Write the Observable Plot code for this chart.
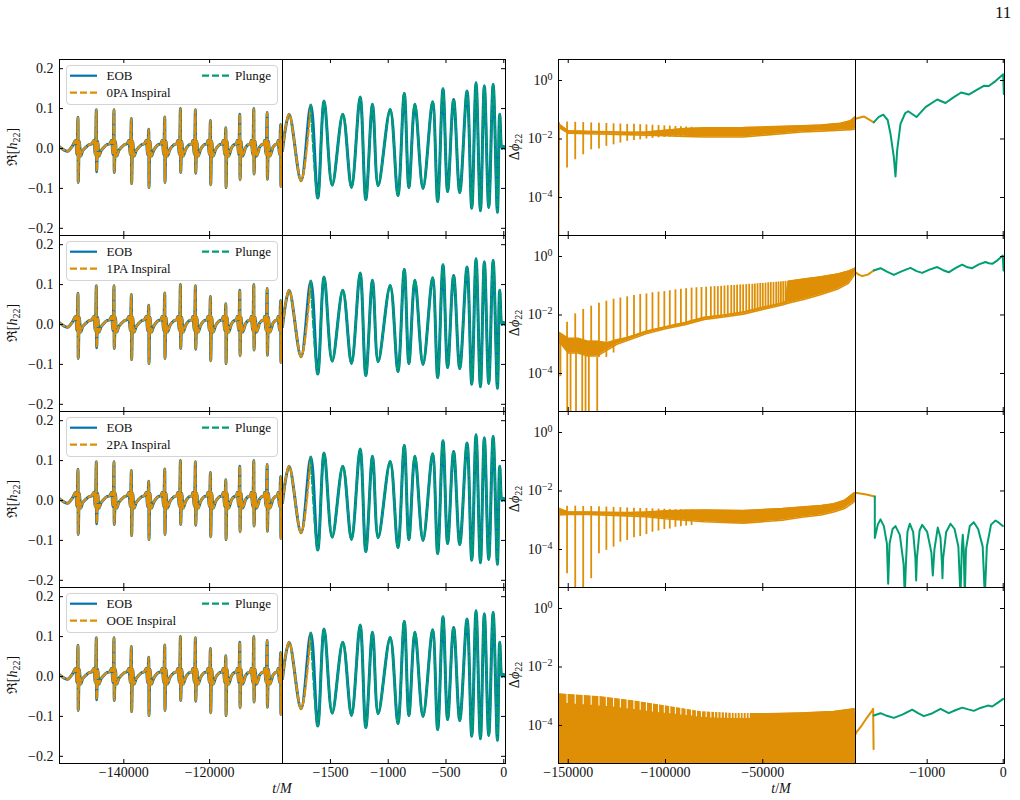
<!DOCTYPE html>
<html><head><meta charset="utf-8">
<script src="https://cdn.jsdelivr.net/npm/d3@7"></script>
<script src="https://cdn.jsdelivr.net/npm/@observablehq/plot@0.6"></script>
<style>
body{margin:0;background:#fff;}
#fig{position:relative;width:1020px;height:800px;font-family:'Liberation Serif',serif;color:#111;overflow:hidden;background:#fff}
.t{position:absolute;white-space:nowrap;line-height:16px}
.legend{position:absolute;border:1px solid #d4d4d4;border-radius:4px;background:rgba(255,255,255,0.85);box-sizing:border-box}
.ylab{position:absolute;transform:translate(-50%,-50%) rotate(-90deg);font-size:14px;white-space:nowrap;line-height:16px}
sub{font-size:10px;vertical-align:-3px}
</style></head><body><div id="fig"></div><script>
// ======================= DATA =======================
// Left column: EOB waveform Re[h22] (same in all rows)
const inspLeadT = [-155200, -153900, -153100, -152000];
const inspLeadH = [0.006, -0.004, -0.007, 0.006];
const inspSpikeT = [-150660, -146380, -142260, -138210, -134165, -130430, -126770, -123270, -119770, -116190, -112925, -109660, -106550, -103400];
const inspSpikeMax = [0.078, 0.097, 0.097, 0.075, 0.048, 0.079, 0.100, 0.097, 0.070, 0.052, 0.086, 0.100, 0.090, 0.060];
const inspSpikeMin = [-0.085, -0.058, -0.060, -0.088, -0.098, -0.085, -0.060, -0.062, -0.091, -0.098, -0.078, -0.064, -0.077, -0.095];
// shape of one periastron burst (offset in M, value; null = the burst's peak / trough)
const burstDT = [-630, -310, -40, 40, 310, 630, 1100];
const burstH = [0.020, -0.015, null, null, 0.018, -0.019, -0.005];
// slow baseline between bursts (fraction of the gap, value)
const gapFrac = [0.4, 0.6, 0.75];
const gapH = [0.002, 0.010, 0.012];
// plunge extrema
const plungeT = [-1915, -1858, -1754, -1670, -1610, -1555, -1485, -1393, -1318, -1243, -1194, -1136, -1087, -983, -916, -861, -821, -769, -699, -616, -572, -526, -486, -434, -381, -318, -277, -240, -202, -168, -130, -92, -55, -35, -14, 0, 12];
const plungeH = [-0.005, 0.086, -0.081, 0.109, -0.124, 0.119, -0.092, 0.086, -0.0975, 0.129, -0.128, 0.111, -0.093, 0.098, -0.118, 0.138, -0.0975, 0.111, -0.100, 0.117, -0.133, 0.150, -0.108, 0.123, -0.110, 0.144, -0.150, 0.165, -0.156, 0.157, -0.148, 0.161, -0.160, 0.086, 0.000, 0.005, 0.000];
const inspiralEndT = -1670;
const inspiralLabels = ["0PA Inspiral", "1PA Inspiral", "2PA Inspiral", "OOE Inspiral"];

// Right column: Δφ22 (values are log10 exponents)
const orbitT = [-150600, -146400, -142300, -138200, -134200, -130400, -126700, -123200, -119700, -116200, -113000, -109800, -106700, -103600, -100600, -97800, -94900, -92100, -89400, -86600, -84100, -81500, -79100, -76700, -74800, -73100, -71400, -69700, -68000, -66200, -64700, -63200, -61600, -60100, -58500, -57000, -55400, -54100, -52700, -51300, -50000, -48600, -47200, -45900, -44500, -43100, -41900, -40700, -39500, -38300];

// row 1 (0PA)
const r1Top = [-1.42, -1.43, -1.44, -1.45, -1.46, -1.47, -1.48, -1.49, -1.50, -1.50, -1.51, -1.52, -1.53, -1.54, -1.55, -1.56, -1.57, -1.58, -1.59, -1.60];
const r1Bot = [-2.99, -2.71, -2.54, -2.37, -2.34, -2.25, -2.20, -2.14, -2.08, -2.05, -2.03, -2.00, -1.98, -1.96, -1.95, -1.94, -1.94, -1.93, -1.93, -1.93];
const r1BandT = [-154600, -150000, -140000, -120000, -110000, -100000, -90000, -80000, -60000, -40000, -30000, -20000, -10000, -5000, -2350];
const r1BandLo = [-1.62, -1.80, -1.82, -1.85, -1.87, -1.89, -1.91, -1.93, -1.93, -1.82, -1.76, -1.73, -1.70, -1.68, -1.66];
const r1BandHi = [-1.50, -1.72, -1.74, -1.77, -1.76, -1.70, -1.64, -1.62, -1.61, -1.57, -1.55, -1.52, -1.46, -1.38, -1.23];
const r1StartT = [-155000, -154700, -154600];
const r1StartE = [-5.5, -1.45, -1.62];
const r1InspT = [-1943, -1834, -1703];
const r1InspE = [-1.31, -1.23, -1.43];
const r1PlungeT = [-1703, -1640, -1579, -1520, -1483, -1439, -1417, -1395, -1351, -1290, -1250, -1141, -1022, -868, -759, -649, -553, -453, -342, -255, -189, -101, 0, 8];
const r1PlungeE = [-1.43, -1.25, -1.17, -1.35, -1.82, -2.62, -3.28, -2.39, -1.48, -1.12, -1.05, -1.25, -0.91, -0.65, -0.77, -0.57, -0.41, -0.48, -0.31, -0.18, -0.19, -0.02, 0.21, -0.46];

// row 2 (1PA)
const r2Top = [-2.25, -1.96, -1.81, -1.70, -1.60, -1.53, -1.46, -1.42, -1.38, -1.33, -1.30, -1.28, -1.24, -1.22, -1.20, -1.17, -1.14, -1.12, -1.10, -1.08, -1.07, -1.06, -1.05, -1.04, -1.03, -1.03, -1.02, -1.01, -1.00, -0.99, -0.99, -0.98, -0.97, -0.97, -0.96, -0.95, -0.95, -0.94, -0.93, -0.92, -0.92, -0.91, -0.90, -0.89, -0.89, -0.88, -0.87, -0.87, -0.86, -0.85];
const r2Bot = [-3.20, -3.30, -3.35, -3.40, -3.45, -3.45, -3.30, -2.95, -2.85, -2.72, -2.66, -2.60, -2.56, -2.52, -2.47, -2.43, -2.39, -2.35, -2.31, -2.27, -2.23, -2.18, -2.13, -2.11, -2.10, -2.09, -2.08, -2.06, -2.05, -2.03, -2.02, -2.00, -1.98, -1.96, -1.94, -1.92, -1.89, -1.87, -1.85, -1.83, -1.81, -1.79, -1.77, -1.75, -1.72, -1.70, -1.68, -1.66, -1.64, -1.62];
const r2BandT = [-154700, -150000, -145000, -140000, -135000, -130000, -125000, -120000, -110000, -100000, -90000, -80000, -70000, -60000, -50000, -40000, -38300, -37000, -28000, -20000, -11000, -6000, -3200, -2350];
const r2BandLo = [-2.90, -3.30, -3.30, -3.40, -3.40, -3.20, -3.00, -2.88, -2.64, -2.47, -2.33, -2.15, -2.07, -1.97, -1.81, -1.66, -1.62, -1.60, -1.45, -1.30, -1.10, -0.92, -0.65, -0.55];
const r2BandHi = [-2.60, -2.80, -2.80, -2.90, -2.90, -2.95, -2.85, -2.78, -2.56, -2.40, -2.26, -2.08, -2.00, -1.90, -1.74, -1.59, -1.55, -0.85, -0.76, -0.69, -0.59, -0.50, -0.42, -0.38];
const r2DipT = [-154000, -150500, -148800, -146000, -142800, -141100, -139400, -135100];
const r2DipTop = [-2.90, -3.20, -3.30, -3.30, -3.35, -3.40, -3.40, -3.45];
const r2DipBot = [-4.10, -5.60, -5.60, -5.60, -5.60, -5.60, -5.60, -5.60];
const r2StartT = [-155000, -154800];
const r2StartE = [-4.10, -2.90];
const r2InspT = [-1943, -1900, -1855, -1780, -1703];
const r2InspE = [-0.54, -0.62, -0.67, -0.62, -0.48];
const r2PlungeT = [-1703, -1614, -1530, -1439, -1330, -1220, -1140, -1066, -970, -868, -790, -716, -630, -539, -470, -408, -320, -233, -190, -145, -80, -5, 4];
const r2PlungeE = [-0.48, -0.40, -0.52, -0.63, -0.50, -0.39, -0.50, -0.56, -0.45, -0.36, -0.47, -0.54, -0.40, -0.28, -0.37, -0.40, -0.27, -0.19, -0.23, -0.25, -0.14, 0.03, -0.48];

// row 3 (2PA)
const r3Top = [-2.52, -2.52, -2.53, -2.53, -2.54, -2.55, -2.56, -2.57, -2.58, -2.59, -2.60, -2.60, -2.61, -2.62, -2.62, -2.63, -2.64, -2.64, -2.65, -2.65];
const r3Bot = [-4.83, -5.60, -5.60, -5.00, -4.15, -4.03, -3.92, -3.75, -3.69, -3.60, -3.56, -3.49, -3.41, -3.37, -3.32, -3.30, -3.24, -3.22, -3.20, -3.18];
const r3BandT = [-154600, -150000, -140000, -120000, -110000, -100000, -90000, -80000, -60000, -40000, -30000, -20000, -13500, -8000, -3220, -2350];
const r3BandLo = [-2.82, -2.80, -2.80, -2.85, -2.88, -2.95, -3.00, -3.05, -3.10, -3.00, -2.90, -2.82, -2.72, -2.60, -2.38, -2.30];
const r3BandHi = [-2.60, -2.72, -2.72, -2.74, -2.72, -2.68, -2.66, -2.65, -2.67, -2.60, -2.55, -2.50, -2.44, -2.32, -2.07, -2.05];
const r3StartT = [-155000, -154700];
const r3StartE = [-5.5, -2.60];
const r3InspT = [-1943, -1800, -1689];
const r3InspE = [-2.06, -2.12, -2.19];
const r3PlungeT = [-1689, -1689, -1650, -1614, -1570, -1530, -1513, -1495, -1455, -1417, -1360, -1310, -1295, -1280, -1260, -1229, -1185, -1155, -1145, -1135, -1100, -1066, -1000, -945, -926, -905, -861, -825, -805, -799, -790, -750, -693, -640, -590, -562, -545, -532, -520, -505, -490, -440, -387, -330, -270, -242, -215, -160, -101, -50, -5];
const r3PlungeE = [-2.19, -3.61, -3.15, -2.97, -3.20, -3.80, -5.17, -3.80, -3.30, -3.20, -3.50, -4.50, -5.60, -4.50, -3.40, -3.12, -3.40, -4.30, -5.06, -4.30, -3.35, -3.16, -3.40, -4.10, -4.89, -4.00, -3.25, -3.60, -4.50, -4.98, -4.30, -3.40, -3.12, -3.30, -3.90, -5.60, -4.00, -3.50, -4.00, -5.60, -4.00, -3.20, -3.07, -3.30, -3.90, -5.60, -3.90, -3.15, -3.01, -3.10, -3.20];

// row 4 (OOE)
const r4BandT = [-155000, -150000, -133400, -116300, -99100, -82000, -64900, -47700, -30600, -13500, -3000, -2500, -2350];
const r4BandTop = [-2.92, -2.95, -3.03, -3.17, -3.35, -3.54, -3.60, -3.60, -3.57, -3.52, -3.43, -3.45, -3.60];
const r4NotchTop = [-2.95, -2.97, -2.99, -3.01, -3.03, -3.05, -3.08, -3.11, -3.14, -3.17, -3.20, -3.24, -3.27, -3.30, -3.33, -3.36, -3.39, -3.42, -3.45, -3.48, -3.51, -3.54, -3.55, -3.56, -3.57, -3.57, -3.58, -3.58, -3.59, -3.59, -3.60, -3.60, -3.60, -3.60, -3.60, -3.60];
const r4NotchBot = [-3.25, -3.27, -3.29, -3.31, -3.33, -3.35, -3.37, -3.40, -3.43, -3.45, -3.48, -3.51, -3.54, -3.56, -3.58, -3.60, -3.62, -3.64, -3.66, -3.68, -3.70, -3.72, -3.73, -3.74, -3.74, -3.75, -3.75, -3.75, -3.76, -3.76, -3.76, -3.76, -3.76, -3.76, -3.76, -3.76];
const r4InspT = [-1943, -1930, -1877, -1789, -1724, -1711, -1705];
const r4InspE = [-4.30, -4.23, -4.06, -3.72, -3.49, -3.43, -4.80];
const r4PlungeT = [-1703, -1614, -1530, -1439, -1320, -1197, -1120, -1044, -930, -825, -716, -630, -539, -460, -387, -300, -203, -145, -70, 0];
const r4PlungeE = [-3.66, -3.58, -3.67, -3.74, -3.62, -3.46, -3.58, -3.68, -3.58, -3.43, -3.58, -3.48, -3.39, -3.45, -3.50, -3.40, -3.32, -3.35, -3.22, -3.09];

// axes
const xTicksL1 = [-140000, -120000], xTicksL2 = [-1500, -1000, -500, 0];
const xTicksR1 = [-150000, -100000, -50000], xTicksR2 = [-1000, 0];
const yTicksL = [-0.2, -0.1, 0, 0.1, 0.2], yTicksR = [1, 1e-2, 1e-4];

// ======================= DRAWING =======================
const BLUE = "#0173b2", ORANGE = "#de8f05", GREEN = "#029e73";
const ROW_TOP = [59, 235, 411, 587], ROW_H = 176, M = 50;
const fig = document.getElementById("fig");
const E = v => Math.pow(10, v);
const minus = s => String(s).replace("-", "\u2212");
const idx = a => d3.range(a.length);

function makePanel({x0, x1, top, xDomain, yType, yDomain, xTicks, yTicks, ySide, showX, showY, yFmt, marks, logLabels}) {
  const w = x1 - x0, h = ROW_H;
  const m = [...marks,
    Plot.ruleX(xTicks, {insetTop: h - 4, stroke: "#000"}),
    Plot.ruleX(xTicks, {insetBottom: h - 4, stroke: "#000"}),
    Plot.ruleY(yTicks, ySide === "left" ? {insetRight: w - 4, stroke: "#000"} : {insetLeft: w - 4, stroke: "#000"}),
    Plot.frame({stroke: "#000"})
  ];
  if (showX) m.push(Plot.axisX(xTicks, {tickSize: 0, tickPadding: 4, tickFormat: d => minus(d), fontSize: 14, label: null}));
  if (showY) m.push(Plot.axisY(yTicks, {anchor: "left", tickSize: 0, tickPadding: 6, tickFormat: yFmt, fontSize: 14, label: null}));
  const svg = Plot.plot({
    width: w + 2 * M, height: h + 2 * M,
    marginLeft: M, marginRight: M, marginTop: M, marginBottom: M,
    x: {domain: xDomain, axis: null, label: null},
    y: {type: yType, domain: yDomain, axis: null, label: null},
    marks: m,
    style: {position: "absolute", left: (x0 - M) + "px", top: (top - M) + "px", background: "transparent", overflow: "visible", fontFamily: "'Liberation Serif', serif", fontSize: "14px", color: "#111", maxWidth: "none"}
  });
  if (logLabels) {
    svg.querySelectorAll('g[aria-label="y-axis tick label"] text').forEach(t => {
      const [b, e] = t.textContent.split("^");
      t.textContent = b;
      const ts = document.createElementNS("http://www.w3.org/2000/svg", "tspan");
      ts.setAttribute("dy", "-0.5em");
      ts.setAttribute("font-size", "10");
      ts.textContent = minus(e);
      t.appendChild(ts);
    });
  }
  fig.appendChild(svg);
}

// build inspiral polyline
const insp = idx(inspLeadT).map(i => ({t: inspLeadT[i], h: inspLeadH[i]}));
inspSpikeT.forEach((t0, i) => {
  burstDT.forEach((dt, k) => {
    const h = burstH[k] === null ? (k === 2 ? inspSpikeMax[i] : inspSpikeMin[i]) : burstH[k];
    insp.push({t: t0 + dt, h});
  });
  const t1 = inspSpikeT[i + 1];
  if (t1 !== undefined) gapFrac.forEach((f, k) => insp.push({t: t0 + f * (t1 - t0), h: gapH[k]}));
});
const plunge = idx(plungeT).map(i => ({t: plungeT[i], h: plungeH[i]}));
const plungeInsp = plunge.filter(d => d.t <= inspiralEndT);
const plungePl = plunge.filter(d => d.t >= inspiralEndT);

const yDomL = [-0.218, 0.223], yDomR = [E(-5.3), E(0.718)];
const fmtL = d => d === 0 ? "0.0" : (d < 0 ? "\u2212" : "") + Math.abs(d).toFixed(1);
const fmtR = d => "10^" + Math.round(Math.log10(d));

const lineOpts = {x: "t", y: "h", curve: "catmull-rom", clip: true};

function bandMarks(T, lo, hi) {
  return [
    Plot.areaY(idx(T), {x: i => T[i], y1: i => E(lo[i]), y2: i => E(hi[i]), fill: ORANGE, clip: true}),
    Plot.line(idx(T), {x: i => T[i], y: i => E(lo[i]), stroke: ORANGE, strokeWidth: 1.6, clip: true}),
    Plot.line(idx(T), {x: i => T[i], y: i => E(hi[i]), stroke: ORANGE, strokeWidth: 1.6, clip: true})
  ];
}
function orbitRules(top, bot, stroke, sw) {
  return Plot.ruleX(idx(top), {x: i => orbitT[i], y1: i => E(bot[i]), y2: i => E(top[i]), stroke, strokeWidth: sw, clip: true});
}
function pathE(T, Ev, stroke, sw = 2) {
  return Plot.line(idx(T), {x: i => T[i], y: i => E(Ev[i]), stroke, strokeWidth: sw, clip: true});
}

const rightLeftMarks = [
  [...bandMarks(r1BandT, r1BandLo, r1BandHi), orbitRules(r1Top, r1Bot, ORANGE, 1.8), pathE(r1StartT, r1StartE, ORANGE, 1.8)],
  [...bandMarks(r2BandT, r2BandLo, r2BandHi), orbitRules(r2Top, r2Bot, ORANGE, 1.8),
    Plot.ruleX(idx(r2DipT), {x: i => r2DipT[i], y1: i => E(r2DipBot[i]), y2: i => E(r2DipTop[i]), stroke: ORANGE, strokeWidth: 1.8, clip: true}),
    pathE(r2StartT, r2StartE, ORANGE, 1.8)],
  [...bandMarks(r3BandT, r3BandLo, r3BandHi), orbitRules(r3Top, r3Bot, ORANGE, 1.8), pathE(r3StartT, r3StartE, ORANGE, 1.8)],
  [Plot.areaY(idx(r4BandT), {x: i => r4BandT[i], y1: () => 1e-7, y2: i => E(r4BandTop[i]), fill: ORANGE, clip: true}),
    Plot.line(idx(r4BandT), {x: i => r4BandT[i], y: i => E(r4BandTop[i]), stroke: ORANGE, strokeWidth: 1.5, clip: true}),
    Plot.ruleX(idx(r4NotchTop), {x: i => orbitT[i], y1: i => E(r4NotchBot[i]), y2: i => E(r4NotchTop[i] + 0.1), stroke: "#fff", strokeWidth: 1.1, clip: true})]
];
const rightRightMarks = [
  [pathE(r1InspT, r1InspE, ORANGE), pathE(r1PlungeT, r1PlungeE, GREEN)],
  [pathE(r2InspT, r2InspE, ORANGE), pathE(r2PlungeT, r2PlungeE, GREEN)],
  [pathE(r3InspT, r3InspE, ORANGE), pathE(r3PlungeT, r3PlungeE, GREEN)],
  [pathE(r4InspT, r4InspE, ORANGE), pathE(r4PlungeT, r4PlungeE, GREEN)]
];

ROW_TOP.forEach((top, r) => {
  const last = r === 3;
  makePanel({x0: 59, x1: 282, top, xDomain: [-155000, -103000], yType: "linear", yDomain: yDomL,
    xTicks: xTicksL1, yTicks: yTicksL, ySide: "left", showX: last, showY: true, yFmt: fmtL,
    marks: [Plot.line(insp, {...lineOpts, stroke: BLUE, strokeWidth: 3}),
            Plot.line(insp, {...lineOpts, stroke: ORANGE, strokeWidth: 2.2, strokeDasharray: "7,3"})]});
  makePanel({x0: 282, x1: 505, top, xDomain: [-1915, 15], yType: "linear", yDomain: yDomL,
    xTicks: xTicksL2, yTicks: yTicksL, ySide: "right", showX: last, showY: false,
    marks: [Plot.line(plunge, {...lineOpts, stroke: BLUE, strokeWidth: 3}),
            Plot.line(plungeInsp, {...lineOpts, stroke: ORANGE, strokeWidth: 2.2, strokeDasharray: "7,3"}),
            Plot.line(plungePl, {...lineOpts, stroke: GREEN, strokeWidth: 2.2, strokeDasharray: "7,3"})]});
  makePanel({x0: 558, x1: 855, top, xDomain: [-155000, -2350], yType: "log", yDomain: yDomR,
    xTicks: xTicksR1, yTicks: yTicksR, ySide: "left", showX: last, showY: true, yFmt: fmtR, logLabels: true,
    marks: rightLeftMarks[r]});
  makePanel({x0: 855, x1: 1004, top, xDomain: [-1943, 17], yType: "log", yDomain: yDomR,
    xTicks: xTicksR2, yTicks: yTicksR, ySide: "right", showX: last, showY: false,
    marks: rightRightMarks[r]});

  // legend
  const lg = document.createElement("div");
  lg.className = "legend";
  Object.assign(lg.style, {left: "65.5px", top: (top + 6) + "px", width: "212px", height: "40px"});
  fig.appendChild(lg);
  const ns = "http://www.w3.org/2000/svg";
  const ls = document.createElementNS(ns, "svg");
  ls.setAttribute("width", "1020"); ls.setAttribute("height", "800");
  Object.assign(ls.style, {position: "absolute", left: "0px", top: "0px", overflow: "visible"});
  const samples = [[70, 97, top + 16.7, BLUE, null], [70, 97, top + 33.7, ORANGE, "7,3"], [202, 230, top + 16.7, GREEN, "7,3"]];
  samples.forEach(([a, b, y, c, da]) => {
    const l = document.createElementNS(ns, "line");
    l.setAttribute("x1", a); l.setAttribute("x2", b); l.setAttribute("y1", y); l.setAttribute("y2", y);
    l.setAttribute("stroke", c); l.setAttribute("stroke-width", "2.2");
    if (da) l.setAttribute("stroke-dasharray", da);
    ls.appendChild(l);
  });
  fig.appendChild(ls);
  [["EOB", 106.5, top + 16.7], [inspiralLabels[r], 106.5, top + 33.7], ["Plunge", 235, top + 16.7]].forEach(([s, x, y]) => {
    const d = document.createElement("div");
    d.className = "t"; d.textContent = s;
    Object.assign(d.style, {left: x + "px", top: (y - 8) + "px", fontSize: "13px"});
    fig.appendChild(d);
  });

  // y labels
  const yl = document.createElement("div");
  yl.className = "ylab"; yl.innerHTML = "\u211C[<i>h</i><sub>22</sub>]";
  Object.assign(yl.style, {left: "15px", top: (top + 88) + "px"});
  fig.appendChild(yl);
  const yr = document.createElement("div");
  yr.className = "ylab"; yr.innerHTML = "\u0394<i>\u03D5</i><sub>22</sub>";
  Object.assign(yr.style, {left: "517px", top: (top + 88) + "px"});
  fig.appendChild(yr);
});

// x labels and page number
[[282, 789], [781, 789]].forEach(([x, y]) => {
  const d = document.createElement("div");
  d.className = "t"; d.innerHTML = "<i>t</i>/<i>M</i>";
  Object.assign(d.style, {left: x + "px", top: (y - 7) + "px", fontSize: "14px", lineHeight: "14px", transform: "translateX(-50%)"});
  fig.appendChild(d);
});
const pg = document.createElement("div");
pg.className = "t"; pg.textContent = "11";
Object.assign(pg.style, {left: "995px", top: "4px", fontSize: "17px", lineHeight: "18px"});
fig.appendChild(pg);
</script></body></html>
